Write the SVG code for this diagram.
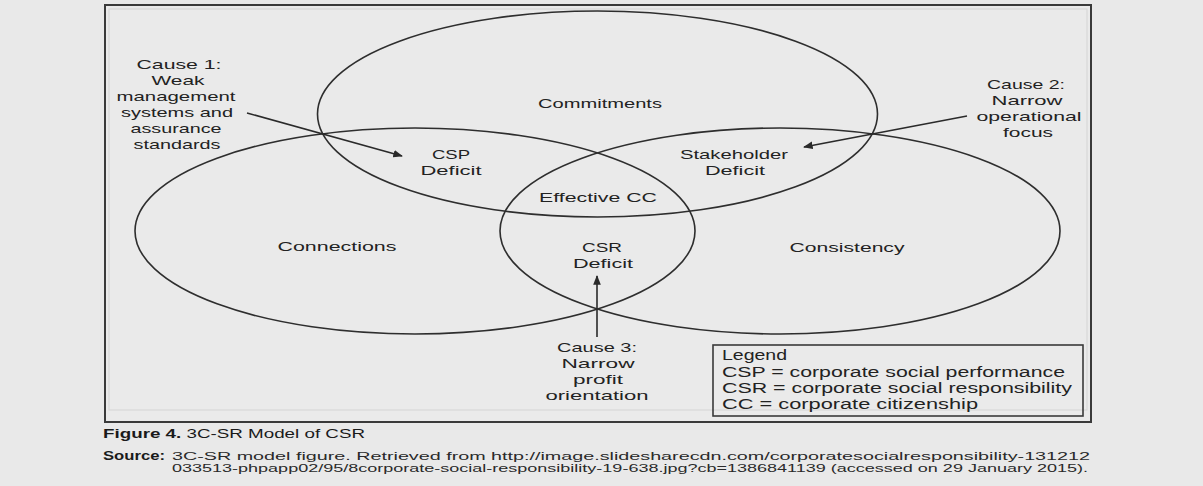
<svg xmlns="http://www.w3.org/2000/svg" width="1203" height="486" viewBox="0 0 1203 486">
<style>
.bg{fill:#e9e9e9}
.frame{fill:#eaeaea;stroke:#3a3a3a;stroke-width:2}
.set{fill:none;stroke:#2e2e2e;stroke-width:1.6}
.t{font-family:"Liberation Sans","Open Sans",sans-serif;font-size:13.5px;fill:#222;text-anchor:middle}
.lg{font-family:"Liberation Sans","Open Sans",sans-serif;font-size:14px;fill:#222}
.cap{font-family:"Liberation Sans","Open Sans",sans-serif;font-size:13px;fill:#1a1a1a;font-weight:bold}
.src{font-family:"Liberation Sans","Open Sans",sans-serif;font-size:10px;fill:#2a2a2a}
.arrow{stroke:#2a2a2a;stroke-width:1.6;fill:none;marker-end:url(#ah)}
</style>
<defs>
<marker id="ah" viewBox="0 0 10 10" refX="9" refY="5" markerWidth="6" markerHeight="6" orient="auto" markerUnits="strokeWidth">
<path d="M0,1 L10,5 L0,9 z" fill="#2a2a2a"/>
</marker>
</defs>
<rect class="bg" x="0" y="0" width="1203" height="486"/>
<rect class="frame" x="105" y="5" width="986" height="417"/>
<rect x="109" y="9" width="978" height="401" fill="none" stroke="#d4d4d4" stroke-width="1"/>

<g id="commitments">
<ellipse class="set" cx="597.5" cy="114" rx="280" ry="103"/>
<text class="t" x="600" y="108" textLength="124" lengthAdjust="spacingAndGlyphs">Commitments</text>
</g>
<g id="connections">
<ellipse class="set" cx="415" cy="231" rx="280" ry="103"/>
<text class="t" x="337" y="251" textLength="119" lengthAdjust="spacingAndGlyphs">Connections</text>
</g>
<g id="consistency">
<ellipse class="set" cx="780" cy="231" rx="280" ry="103"/>
<text class="t" x="847" y="252" textLength="115" lengthAdjust="spacingAndGlyphs">Consistency</text>
</g>

<g id="csp-deficit">
<text class="t" x="451" y="159" textLength="38" lengthAdjust="spacingAndGlyphs">CSP</text>
<text class="t" x="451" y="175" textLength="61" lengthAdjust="spacingAndGlyphs">Deficit</text>
</g>
<g id="stakeholder-deficit">
<text class="t" x="734" y="159" textLength="108" lengthAdjust="spacingAndGlyphs">Stakeholder</text>
<text class="t" x="735" y="175" textLength="60" lengthAdjust="spacingAndGlyphs">Deficit</text>
</g>
<g id="effective-cc">
<text class="t" x="598" y="202" textLength="118" lengthAdjust="spacingAndGlyphs">Effective CC</text>
</g>
<g id="csr-deficit">
<text class="t" x="602" y="252" textLength="40" lengthAdjust="spacingAndGlyphs">CSR</text>
<text class="t" x="603" y="268" textLength="60" lengthAdjust="spacingAndGlyphs">Deficit</text>
</g>

<g id="cause1">
<text class="t" x="179" y="69" textLength="85" lengthAdjust="spacingAndGlyphs">Cause 1:</text>
<text class="t" x="178" y="85" textLength="53" lengthAdjust="spacingAndGlyphs">Weak</text>
<text class="t" x="176" y="101" textLength="119" lengthAdjust="spacingAndGlyphs">management</text>
<text class="t" x="177" y="117" textLength="112" lengthAdjust="spacingAndGlyphs">systems and</text>
<text class="t" x="176" y="133" textLength="91" lengthAdjust="spacingAndGlyphs">assurance</text>
<text class="t" x="177" y="149" textLength="87" lengthAdjust="spacingAndGlyphs">standards</text>
</g>
<g id="cause2">
<text class="t" x="1026" y="89" textLength="78" lengthAdjust="spacingAndGlyphs">Cause 2:</text>
<text class="t" x="1027" y="105" textLength="71" lengthAdjust="spacingAndGlyphs">Narrow</text>
<text class="t" x="1029" y="121" textLength="105" lengthAdjust="spacingAndGlyphs">operational</text>
<text class="t" x="1028" y="137" textLength="50" lengthAdjust="spacingAndGlyphs">focus</text>
</g>
<g id="cause3">
<text class="t" x="597" y="352" textLength="80" lengthAdjust="spacingAndGlyphs">Cause 3:</text>
<text class="t" x="598" y="368" textLength="73" lengthAdjust="spacingAndGlyphs">Narrow</text>
<text class="t" x="598" y="384" textLength="50" lengthAdjust="spacingAndGlyphs">profit</text>
<text class="t" x="597" y="400" textLength="103" lengthAdjust="spacingAndGlyphs">orientation</text>
</g>

<g id="connectors">
<line class="arrow" x1="247" y1="113" x2="402" y2="156"/>
<line class="arrow" x1="967" y1="116" x2="804" y2="147"/>
<line class="arrow" x1="597" y1="337" x2="597" y2="276"/>
</g>

<g id="legend">
<rect x="713" y="345" width="370" height="71" fill="none" stroke="#3a3a3a" stroke-width="1.6"/>
<text class="lg" x="722" y="360" textLength="65" lengthAdjust="spacingAndGlyphs">Legend</text>
<text class="lg" x="722" y="377" textLength="343" lengthAdjust="spacingAndGlyphs">CSP = corporate social performance</text>
<text class="lg" x="722" y="393" textLength="350" lengthAdjust="spacingAndGlyphs">CSR = corporate social responsibility</text>
<text class="lg" x="722" y="409" textLength="256" lengthAdjust="spacingAndGlyphs">CC = corporate citizenship</text>
</g>

<g id="caption">
<text class="cap" x="103" y="438" textLength="262" lengthAdjust="spacingAndGlyphs">Figure 4. <tspan font-weight="normal">3C-SR Model of CSR</tspan></text>
<text class="cap" x="103" y="460" font-size="10.5" textLength="62" lengthAdjust="spacingAndGlyphs">Source:</text>
<text class="src" x="172" y="460" textLength="918" lengthAdjust="spacingAndGlyphs">3C-SR model figure. Retrieved from http://image.slidesharecdn.com/corporatesocialresponsibility-131212</text>
<text class="src" x="172" y="472" textLength="916" lengthAdjust="spacingAndGlyphs">033513-phpapp02/95/8corporate-social-responsibility-19-638.jpg?cb=1386841139 (accessed on 29 January 2015).</text>
</g>
</svg>
